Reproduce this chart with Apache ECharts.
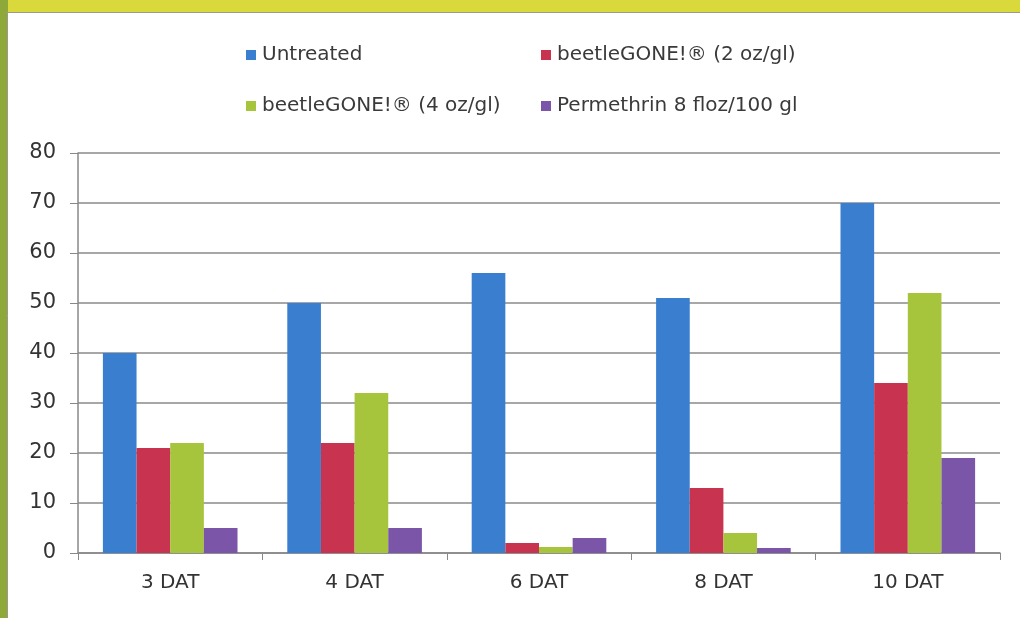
<!DOCTYPE html>
<html>
<head>
<meta charset="utf-8">
<script src="https://cdn.jsdelivr.net/npm/echarts@6/dist/echarts.min.js"></script>
<style>
html,body{margin:0;padding:0;background:#d9d93c;}
#chart{width:1020px;height:618px;}
</style>
</head>
<body>
<div id="chart"></div>
<script>
const categories = ['3 DAT', '4 DAT', '6 DAT', '8 DAT', '10 DAT'];
const seriesNames = ['Untreated', 'beetleGONE!® (2 oz/gl)', 'beetleGONE!® (4 oz/gl)', 'Permethrin 8 floz/100 gl'];
const untreated = [40, 50, 56, 51, 70];
const beetle2 = [21, 22, 2, 13, 34];
const beetle4 = [22, 32, 1.2, 4, 52];
const permethrin = [5, 5, 3, 1, 19];
const colors = ['#3a7fcf', '#c8344f', '#a6c43c', '#7a55a8'];
const yTicks = [0, 10, 20, 30, 40, 50, 60, 70, 80];

const values = [untreated, beetle2, beetle4, permethrin];
const chart = echarts.init(document.getElementById('chart'));
const legendPos = [[241, 40], [536, 40], [241, 91], [536, 91]];
const legends = seriesNames.map((n, i) => ({
  orient: 'horizontal', left: legendPos[i][0], top: legendPos[i][1],
  itemWidth: 10, itemHeight: 10, icon: 'rect', itemGap: 0,
  data: [n],
  textStyle: { fontFamily: 'DejaVu Sans', fontSize: 20, color: '#3a3a3a', padding: [0, 0, 0, 1] }
}));
chart.setOption({
  backgroundColor: '#d9d93c',
  animation: false,
  color: colors,
  graphic: [
    { type: 'rect', left: 0, top: 0, shape: { width: 8, height: 618 }, style: { fill: '#8fa83a' }, z: -10 },
    { type: 'rect', left: 7, top: 12, shape: { width: 1013, height: 606 }, style: { fill: '#ffffff', stroke: '#9a9a8a', lineWidth: 1 }, z: -9 }
  ],
  legend: legends,
  grid: { left: 78, right: 20, top: 153, bottom: 65, containLabel: false },
  xAxis: {
    type: 'category', data: categories,
    axisLine: { lineStyle: { color: '#888', width: 1.5 } },
    axisTick: { show: true, length: 7, inside: false, lineStyle: { color: '#888' } },
    axisLabel: { margin: 20, fontFamily: 'DejaVu Sans', fontSize: 20, color: '#333' }
  },
  yAxis: {
    type: 'value', min: yTicks[0], max: yTicks[yTicks.length - 1], interval: 10,
    axisLine: { show: true, lineStyle: { color: '#888', width: 1.5 } },
    axisTick: { show: true, length: 8, lineStyle: { color: '#888' } },
    splitLine: { lineStyle: { color: '#8a8a8a', width: 1.5 } },
    axisLabel: { margin: 22, fontFamily: 'DejaVu Sans', fontSize: 21, color: '#333',
      formatter: v => yTicks.includes(v) ? String(v) : '' }
  },
  series: seriesNames.map((n, i) => ({
    name: n, type: 'bar', data: values[i], barGap: '0%', barCategoryGap: '27%',
    itemStyle: { color: colors[i] }
  }))
});
</script>
</body>
</html>
